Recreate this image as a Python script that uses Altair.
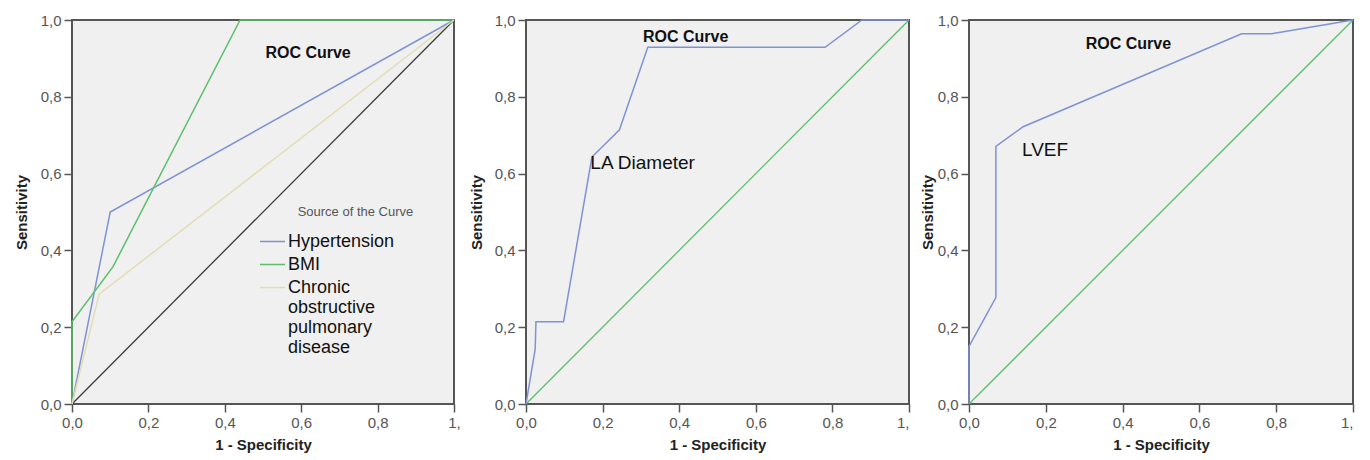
import altair as alt
import pandas as pd

FONT = "Liberation Sans"

# ---------------- data ----------------
series_names = ["Hypertension", "BMI", "Chronic obstructive pulmonary disease"]
series_colors = ["#7f92d2", "#5cbf6c", "#e2ddb5"]

hyp_fpr = [0.0, 0.1, 1.0]
hyp_tpr = [0.0, 0.5, 1.0]
bmi_fpr = [0.0, 0.0, 0.107, 0.44, 1.0]
bmi_tpr = [0.0, 0.214, 0.357, 1.0, 1.0]
copd_fpr = [0.0, 0.071, 1.0]
copd_tpr = [0.0, 0.286, 1.0]

ref_fpr = [0.0, 1.0]
ref_tpr = [0.0, 1.0]

la_fpr = [0.0, 0.024, 0.026, 0.098, 0.172, 0.244, 0.318, 0.781, 0.877, 1.0]
la_tpr = [0.0, 0.143, 0.214, 0.214, 0.643, 0.714, 0.929, 0.929, 1.0, 1.0]

lvef_fpr = [0.0, 0.0, 0.07, 0.07, 0.141, 0.71, 0.788, 1.0]
lvef_tpr = [0.0, 0.15, 0.277, 0.671, 0.722, 0.964, 0.964, 1.0]

tick_values = [0.0, 0.2, 0.4, 0.6, 0.8, 1.0]

# ---------------- helpers ----------------
def curve_df(fpr, tpr, name):
    return pd.DataFrame({"fpr": fpr, "tpr": tpr, "series": name, "idx": list(range(len(fpr)))})

W1, W2, W3, H = 382, 383, 384, 384

def x_enc(last_align="center"):
    return alt.X(
        "fpr:Q",
        scale=alt.Scale(domain=[0, 1], nice=False, zero=False),
        axis=alt.Axis(
            title="1 - Specificity",
            values=tick_values,
            labelExpr="datum.value == 1 ? '1,' : replace(format(datum.value, '.1f'), '.', ',')",
            labelAlign=alt.condition("datum.value == 1", alt.value(last_align), alt.value("center")),
        ),
    )

def y_enc(title_pad):
    return alt.Y(
        "tpr:Q",
        scale=alt.Scale(domain=[0, 1], nice=False, zero=False),
        axis=alt.Axis(
            title="Sensitivity",
            values=tick_values,
            titlePadding=title_pad,
            labelExpr="replace(format(datum.value, '.1f'), '.', ',')",
        ),
    )

def text_layer(df, size, bold=False, align="center", color="#111"):
    return alt.Chart(df).mark_text(
        font=FONT, fontSize=size, fontWeight="bold" if bold else "normal",
        align=align, baseline="middle", color=color,
    ).encode(x=alt.X("x:Q"), y=alt.Y("y:Q"), text="t:N")

# ---------------- panel 1 ----------------
p1_df = pd.concat([
    curve_df(hyp_fpr, hyp_tpr, series_names[0]),
    curve_df(bmi_fpr, bmi_tpr, series_names[1]),
    curve_df(copd_fpr, copd_tpr, series_names[2]),
])
ref_df = curve_df(ref_fpr, ref_tpr, "ref")

TP1, TP2, TP3 = 11, 10, 2

p1_ref = alt.Chart(ref_df).mark_line(color="#3a3a3a", strokeWidth=1.3).encode(
    x=x_enc(), y=y_enc(TP1), order="idx:Q")
p1_lines = alt.Chart(p1_df).mark_line(strokeWidth=1.5).encode(
    x=x_enc(), y=y_enc(TP1), order="idx:Q",
    color=alt.Color(
        "series:N",
        scale=alt.Scale(domain=series_names, range=series_colors),
        legend=alt.Legend(
            orient="none", legendX=187, legendY=208, title=None,
            symbolType="stroke", symbolSize=625, symbolStrokeWidth=1.5,
            labelFont=FONT, labelFontSize=18, labelColor="#111", labelLimit=300,
            labelOffset=2, rowPadding=0,
            labelExpr="datum.label == 'Chronic obstructive pulmonary disease' ? split(datum.label, ' ') : datum.label",
        ),
    ),
)
p1_title = text_layer(pd.DataFrame({"x": [0.618], "y": [0.914], "t": ["ROC Curve"]}), 16, bold=True)
p1_src = text_layer(pd.DataFrame({"x": [0.742], "y": [0.5], "t": ["Source of the Curve"]}), 13, color="#555")
panel1 = alt.layer(p1_ref, p1_lines, p1_title, p1_src).properties(width=W1, height=H)

# ---------------- panel 2 ----------------
la_df = curve_df(la_fpr, la_tpr, "LA Diameter")
p2_ref = alt.Chart(ref_df).mark_line(color="#5cbf6c", strokeWidth=1.3).encode(
    x=x_enc("right"), y=y_enc(TP2), order="idx:Q")
p2_line = alt.Chart(la_df).mark_line(color="#7f92d2", strokeWidth=1.5).encode(
    x=x_enc("right"), y=y_enc(TP2), order="idx:Q")
p2_title = text_layer(pd.DataFrame({"x": [0.417], "y": [0.956], "t": ["ROC Curve"]}), 16, bold=True)
p2_lab = text_layer(pd.DataFrame({"x": [0.168], "y": [0.628], "t": ["LA Diameter"]}), 19, align="left")
panel2 = alt.layer(p2_ref, p2_line, p2_title, p2_lab).properties(width=W2, height=H)

# ---------------- panel 3 ----------------
lvef_df = curve_df(lvef_fpr, lvef_tpr, "LVEF")
p3_ref = alt.Chart(ref_df).mark_line(color="#5cbf6c", strokeWidth=1.3).encode(
    x=x_enc("right"), y=y_enc(TP3), order="idx:Q")
p3_line = alt.Chart(lvef_df).mark_line(color="#7f92d2", strokeWidth=1.5).encode(
    x=x_enc("right"), y=y_enc(TP3), order="idx:Q")
p3_title = text_layer(pd.DataFrame({"x": [0.415], "y": [0.937], "t": ["ROC Curve"]}), 16, bold=True)
p3_lab = text_layer(pd.DataFrame({"x": [0.138], "y": [0.662], "t": ["LVEF"]}), 19, align="left")
panel3 = alt.layer(p3_ref, p3_line, p3_title, p3_lab).properties(width=W3, height=H)

chart = alt.hconcat(panel1, panel2, panel3, spacing=6).resolve_scale(color="independent").properties(
    padding={"top": 4, "left": 5, "right": 0, "bottom": 0},
    background="white",
).configure_view(
    fill="#f0f0f0", stroke="#555555", strokeWidth=2,
).configure_axis(
    domain=False, grid=False, ticks=True, tickColor="#555555", tickSize=8, tickWidth=1.5,
    labelColor="#555555", labelFont=FONT, labelFontSize=15, labelPadding=3,
    titleFont=FONT, titleFontSize=15, titleFontWeight="bold", titleColor="#222222",
).configure_axisX(titlePadding=7)

chart.save("out.html", embed_options={"renderer": "svg", "actions": False})
